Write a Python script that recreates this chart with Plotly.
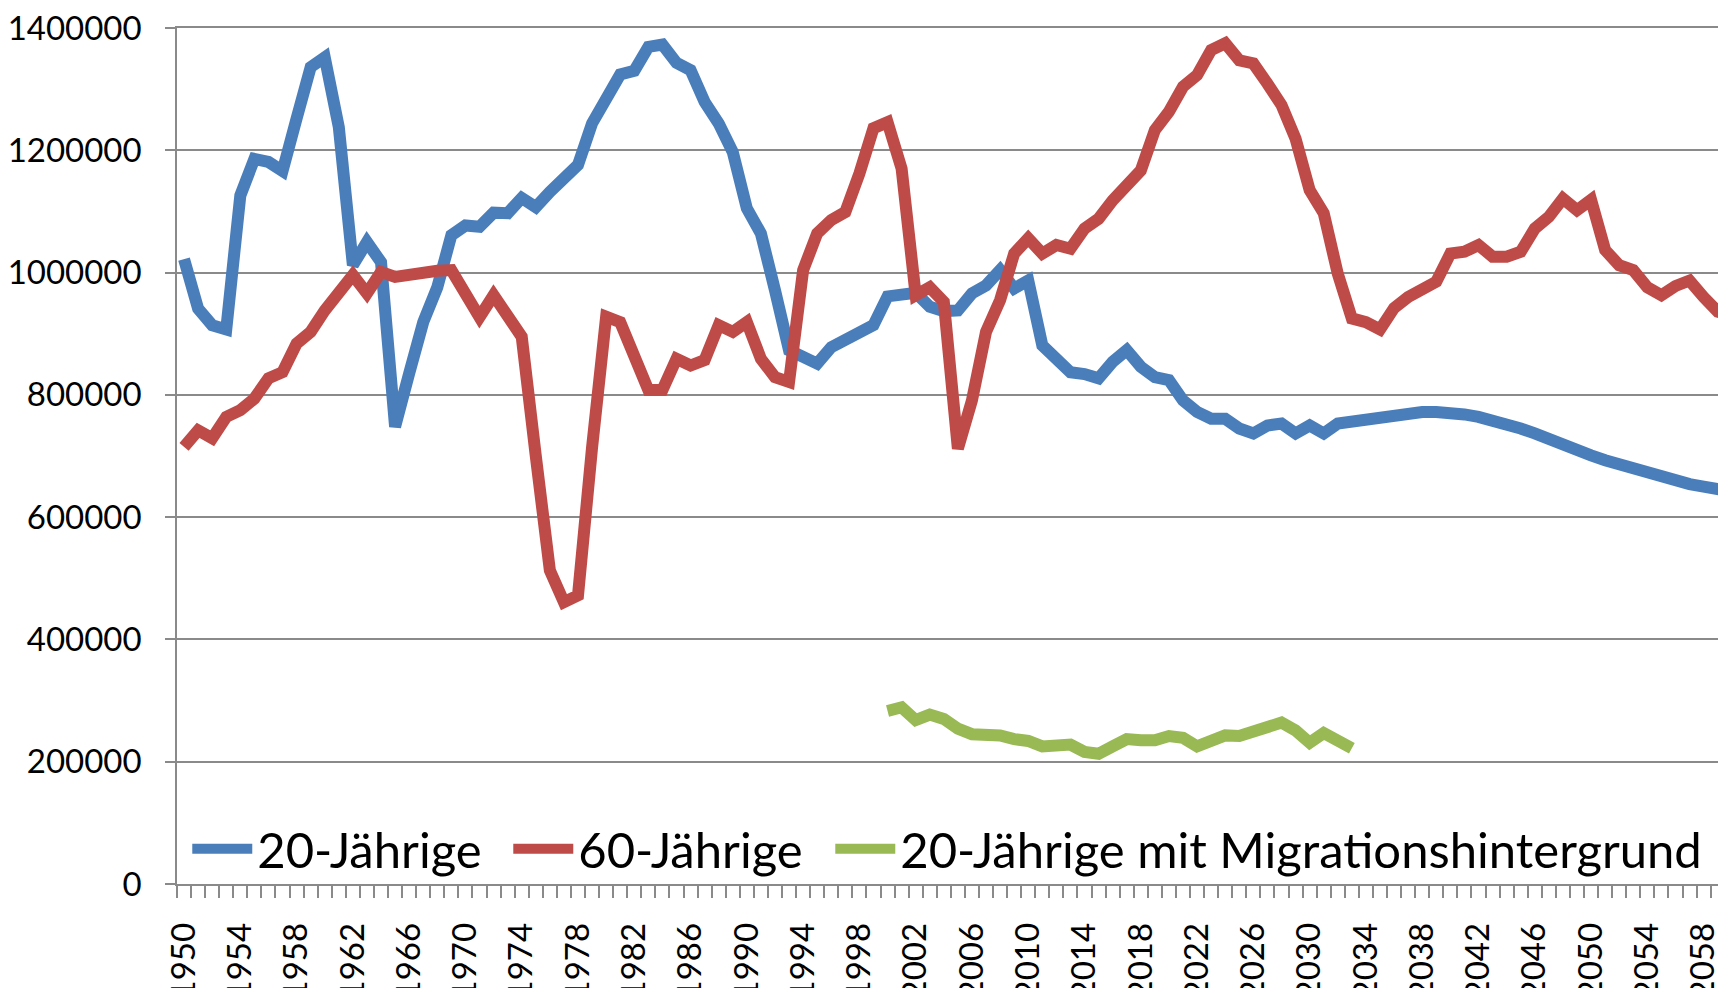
import plotly.graph_objects as go

years = list(range(1950, 2061))

jahrige20 = [
    1022, 941, 914, 907, 1126, 1186, 1181, 1166, 1252, 1336,
    1352, 1238, 1012, 1050, 1017, 748, 835, 919, 976, 1061,
    1077, 1075, 1098, 1097, 1122, 1107, 1132, 1154, 1176, 1244,
    1287, 1324, 1330, 1369, 1373, 1343, 1331, 1279, 1244, 1197,
    1105, 1064, 971, 873, 862, 851, 878, 889, 898, 914,
    961, 962, 967, 944, 937, 938, 966, 979, 1004, 974,
    987, 881, 857, 837, 834, 827, 854, 873, 846, 829,
    824, 791, 772, 761, 761, 745, 737, 750, 753, 737,
    750, 737, 753, 757, 761, 765, 768, 771, 772, 772,
    771, 768, 764, 759, 752, 745, 737, 727, 718, 709,
    701, 693, 686, 678, 671, 665, 659, 654, 650, 646,
    642,
]

jahrige60 = [
    715, 742, 729, 764, 775, 794, 827, 837, 884, 903,
    938, 966, 996, 966, 1001, 993, 998, 999, 1003, 1004,
    966, 927, 963, 930, 895, 700, 513, 461, 472, 714,
    928, 919, 862, 808, 808, 859, 848, 857, 914, 903,
    919, 859, 829, 821, 1004, 1064, 1086, 1099, 1162, 1236,
    1246, 1170, 963, 976, 952, 712, 791, 903, 955, 1031,
    1056, 1031, 1045, 1039, 1072, 1088, 1118, 1146, 1167, 1233,
    1263, 1304, 1323, 1364, 1375, 1347, 1342, 1309, 1274, 1219,
    1135, 1097, 998, 925, 919, 907, 942, 960, 971, 985,
    1031, 1034, 1045, 1026, 1026, 1034, 1072, 1091, 1121, 1102,
    1119, 1037, 1012, 1004, 976, 963, 978, 987, 960, 936,
    930,
]

years_migration = list(range(2000, 2034))
jahrige20_migration = [
    283, 289, 268, 277, 270, 254, 245, 245, 243, 237,
    234, 225, 227, 228, 216, 213, 225, 237, 235, 235,
    242, 239, 225, 233, 243, 242, 250, 259, 264, 251,
    231, 247, 237, 222,
]

tick_years = list(range(1950, 2061, 4))
tick_labels = [str(y) for y in tick_years]

names = ["20-Jährige", "60-Jährige", "20-Jährige mit Migrationshintergrund"]
colors = ["#4A7EBB", "#BE4B48", "#98B954"]

FONT = "Lato"

fig = go.Figure()
fig.add_trace(go.Scatter(
    x=years, y=[v * 1000 for v in jahrige20], mode="lines", name=names[0],
    line=dict(color=colors[0], width=12), legendwidth=246,
))
fig.add_trace(go.Scatter(
    x=years, y=[v * 1000 for v in jahrige60], mode="lines", name=names[1],
    line=dict(color=colors[1], width=12), legendwidth=247,
))
fig.add_trace(go.Scatter(
    x=years_migration, y=[v * 1000 for v in jahrige20_migration], mode="lines",
    name=names[2], line=dict(color=colors[2], width=12),
))

grid = "#8A8A8A"
fig.update_layout(
    width=1726, height=988,
    margin=dict(l=169, r=0, t=20, b=112, pad=0, autoexpand=False),
    paper_bgcolor="white", plot_bgcolor="white",
    font=dict(family=FONT, size=33, color="black"),
    showlegend=True,
    legend=dict(
        orientation="h", x=0.0066, xanchor="left", y=0.041, yanchor="middle",
        font=dict(family=FONT, size=49, color="black"),
        bgcolor="rgba(0,0,0,0)", borderwidth=0,
        itemwidth=60,
    ),
    xaxis=dict(
        automargin=False,
        range=[1949.5, 2060.16],
        tickmode="array", tickvals=tick_years, ticktext=tick_labels,
        tickangle=-90, ticks="outside", ticklen=12, tickcolor="rgba(0,0,0,0)",
        ticklabelstandoff=12,
        minor=dict(tick0=1949.5, dtick=1, ticks="outside", ticklen=12,
                   tickcolor=grid, tickwidth=1.5, showgrid=False),
        showgrid=False, zeroline=False,
        showline=True, linecolor=grid, linewidth=1.5, mirror=True,
        tickfont=dict(family=FONT, size=33, color="black"),
    ),
    yaxis=dict(
        automargin=False,
        range=[0, 1400000], dtick=200000, tick0=0, tickformat="d",
        ticks="outside", ticklen=10, tickcolor=grid, tickwidth=1.5,
        ticklabelstandoff=17, ticklabeloverflow="allow",
        showgrid=True, gridcolor=grid, gridwidth=1.5,
        zeroline=False, showline=True, linecolor=grid, linewidth=1.5,
        tickfont=dict(family=FONT, size=33, color="black"),
    ),
)

fig.write_html("out.html")
